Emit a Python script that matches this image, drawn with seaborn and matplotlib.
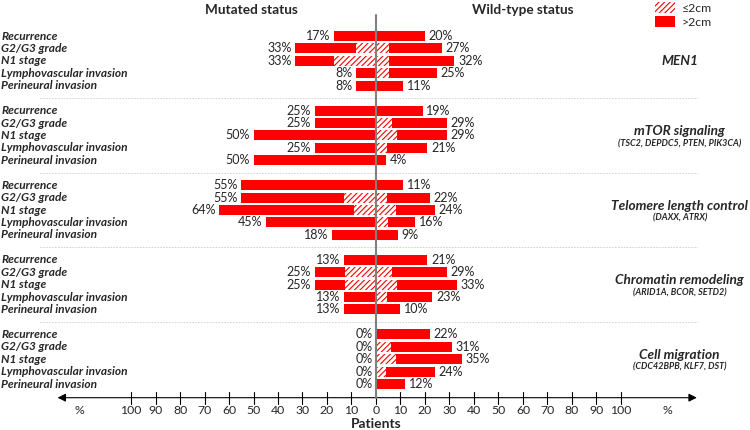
import matplotlib
matplotlib.use('Agg')
import numpy as np
import pandas as pd
import matplotlib.pyplot as plt
import seaborn as sns
from matplotlib.patches import Patch

# Datos
categories = ['Recurrence', 'G2/G3 grade', 'N1 stage', 'Lymphovascular invasion', 'Perineural invasion']
groups = ['MEN1', 'mTOR signaling', 'Telomere length control', 'Chromatin remodeling', 'Cell migration']
group_genes = ['', '(TSC2, DEPDC5, PTEN, PIK3CA)', '(DAXX, ATRX)', '(ARID1A, BCOR, SETD2)', '(CDC42BPB, KLF7, DST)']

mut_total = [[17, 33, 33, 8, 8],
             [25, 25, 50, 25, 50],
             [55, 55, 64, 45, 18],
             [13, 25, 25, 13, 13],
             [0, 0, 0, 0, 0]]
mut_small = [[0, 8, 17, 0, 0],
             [0, 0, 0, 0, 0],
             [0, 13, 9, 0, 0],
             [0, 12.5, 12.5, 0, 0],
             [0, 0, 0, 0, 0]]
wt_total = [[20, 27, 32, 25, 11],
            [19, 29, 29, 21, 4],
            [11, 22, 24, 16, 9],
            [21, 29, 33, 23, 10],
            [22, 31, 35, 24, 12]]
wt_small = [[0, 5.5, 5.5, 5.5, 0],
            [0, 6.5, 8.5, 4.5, 0],
            [0, 4.5, 8, 5, 0],
            [0, 6.5, 8.5, 4.5, 0],
            [0, 6, 8, 4, 0]]

ticks = list(range(-100, 101, 10))

rows = []
for g, grp in enumerate(groups):
    for r, cat in enumerate(categories):
        rows.append({'pos': g * 6 + r, 'category': cat, 'group': grp,
                     'mut_total': mut_total[g][r], 'mut_small': mut_small[g][r],
                     'wt_total': wt_total[g][r], 'wt_small': wt_small[g][r]})
df = pd.DataFrame(rows)
df['mut_neg'] = -df['mut_total']
df['mut_small_neg'] = -df['mut_small']

sns.set_style('white')
plt.rcParams['font.family'] = ['Lato', 'DejaVu Sans']
plt.rcParams['hatch.linewidth'] = 0.8

fig = plt.figure(figsize=(7.5, 4.3), dpi=100)
ax = fig.add_axes([0, 0, 1, 1])

red = '#ff0000'
common = dict(orient='h', native_scale=True, width=0.8, errorbar=None, saturation=1, ax=ax)
# barras totales
sns.barplot(data=df, x='mut_neg', y='pos', color=red, linewidth=0, **common)
sns.barplot(data=df, x='wt_total', y='pos', color=red, linewidth=0, **common)
# parte <=2cm rayada
sns.barplot(data=df, x='mut_small_neg', y='pos', color='white', edgecolor=red,
            hatch='//////', linewidth=0, **common)
sns.barplot(data=df, x='wt_small', y='pos', color='white', edgecolor=red,
            hatch='//////', linewidth=0, **common)

# etiquetas de valores
for _, row in df.iterrows():
    ax.text(-row['mut_total'] - 1.5, row['pos'], f"{row['mut_total']:.0f}%",
            ha='right', va='center', fontsize=9)
    ax.text(row['wt_total'] + 1.5, row['pos'], f"{row['wt_total']:.0f}%",
            ha='left', va='center', fontsize=9)
    ax.text(-153, row['pos'], row['category'], ha='left', va='center',
            fontsize=8.6, fontweight='bold', fontstyle='italic')

# nombres de grupos
for g, grp in enumerate(groups):
    mid = g * 6 + 2
    if group_genes[g]:
        ax.text(124, mid - 0.35, grp, ha='center', va='center', fontsize=9.8,
                fontweight='bold', fontstyle='italic')
        ax.text(124, mid + 0.65, group_genes[g], ha='center', va='center', fontsize=6.5,
                fontweight='bold', fontstyle='italic')
    else:
        ax.text(124, mid, grp, ha='center', va='center', fontsize=9.8,
                fontweight='bold', fontstyle='italic')

# separadores
for g in range(1, len(groups)):
    ax.plot([-137, 131], [g * 6 - 1, g * 6 - 1], color='#cccccc', lw=0.6, ls=(0, (2, 1.5)))

# linea central
ax.plot([0, 0], [-1.7, 29.1], color='#808080', lw=1.5, zorder=5)

# eje x con flechas
axis_y = 29.1
ax.annotate('', xy=(-130, axis_y), xytext=(131, axis_y),
            arrowprops=dict(arrowstyle='<|-|>', color='black', lw=0.8,
                            mutation_scale=12, shrinkA=0, shrinkB=0))
for t in ticks:
    ax.plot([t, t], [axis_y - 0.48, axis_y + 0.48], color='black', lw=0.8)
    ax.text(t, axis_y + 1.05, str(abs(t)), ha='center', va='center', fontsize=8.8)
ax.text(-121, axis_y + 1.05, '%', ha='center', va='center', fontsize=8.8)
ax.text(119, axis_y + 1.05, '%', ha='center', va='center', fontsize=8.8)
ax.text(0, axis_y + 2.15, 'Patients', ha='center', va='center', fontsize=10, fontweight='bold')

# titulos
ax.text(-51, -2.1, 'Mutated status', ha='center', va='center', fontsize=9.8, fontweight='bold')
ax.text(60, -2.1, 'Wild-type status', ha='center', va='center', fontsize=9.8, fontweight='bold')

# leyenda
handles = [Patch(facecolor='white', edgecolor=red, hatch='//////', linewidth=0, label='≤2cm'),
           Patch(facecolor=red, edgecolor=red, linewidth=0, label='>2cm')]
ax.legend(handles=handles, loc='upper left', bbox_to_anchor=(0.862, 1.015), frameon=False,
          fontsize=8.8, handlelength=1.6, handleheight=1.0, handletextpad=0.6,
          labelspacing=0.2, borderpad=0.2)

ax.set_xlim(-153.5, 152.7)
ax.set_ylim(31.7, -2.9)
ax.axis('off')

fig.savefig('out.png', dpi=100)
